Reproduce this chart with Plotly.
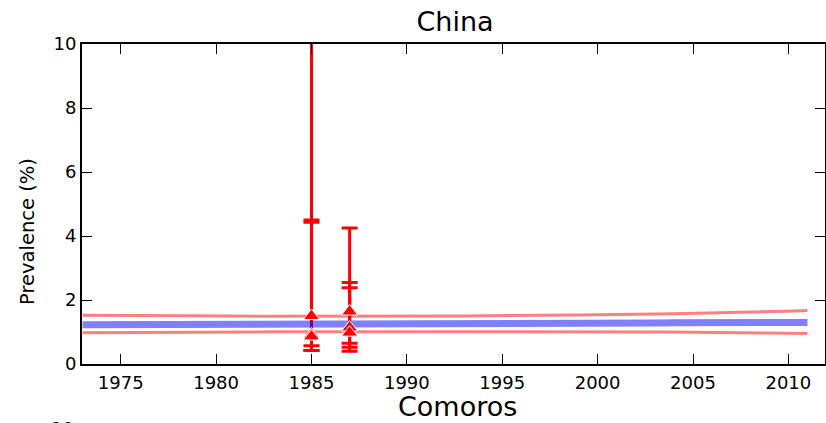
import plotly.graph_objects as go

# ---- data ----
years = list(range(1973, 2012))
upper = [1.52, 1.52, 1.51, 1.51, 1.51, 1.50, 1.50, 1.50, 1.50, 1.49, 1.49, 1.49, 1.48,
         1.48, 1.48, 1.48, 1.49, 1.49, 1.49, 1.50, 1.50, 1.51, 1.51, 1.51, 1.52, 1.52,
         1.53, 1.54, 1.54, 1.55, 1.56, 1.57, 1.58, 1.59, 1.60, 1.62, 1.63, 1.65, 1.67]
central = [1.23, 1.23, 1.23, 1.23, 1.24, 1.24, 1.24, 1.24, 1.24, 1.24, 1.25, 1.25, 1.25,
           1.25, 1.25, 1.25, 1.26, 1.26, 1.26, 1.26, 1.26, 1.27, 1.27, 1.27, 1.27, 1.27,
           1.28, 1.28, 1.28, 1.28, 1.28, 1.29, 1.29, 1.29, 1.29, 1.29, 1.30, 1.30, 1.30]
lower = [0.98, 0.98, 0.99, 0.99, 0.99, 1.00, 1.00, 1.00, 1.00, 1.00, 1.01, 1.01, 1.01,
         1.01, 1.01, 1.02, 1.02, 1.02, 1.02, 1.02, 1.02, 1.02, 1.02, 1.02, 1.02, 1.01,
         1.01, 1.01, 1.01, 1.00, 1.00, 1.00, 0.99, 0.99, 0.98, 0.98, 0.97, 0.96, 0.95]

obs_years = [1985, 1985, 1985, 1987, 1987, 1987]
obs_vals = [1.50, 0.92, 0.86, 1.64, 1.14, 0.98]
obs_low = [0.57, 0.42, 0.42, 0.65, 0.52, 0.40]
obs_high = [12.0, 4.50, 4.43, 4.25, 2.55, 2.38]

x_ticks = [1975, 1980, 1985, 1990, 1995, 2000, 2005, 2010]
y_ticks = [0, 2, 4, 6, 8, 10]

err_plus = [h - v for h, v in zip(obs_high, obs_vals)]
err_minus = [v - l for v, l in zip(obs_vals, obs_low)]

fig = go.Figure()

# error bars (under the band)
fig.add_trace(go.Scatter(
    x=obs_years, y=obs_vals, mode="markers",
    marker=dict(size=1, color="rgba(255,0,0,0)"),
    error_y=dict(type="data", symmetric=False, array=err_plus, arrayminus=err_minus,
                 color="red", thickness=3, width=8),
    showlegend=False, hoverinfo="skip"))

fig.add_trace(go.Scatter(x=years, y=upper, mode="lines",
                         line=dict(color="rgba(255,0,0,0.5)", width=3), showlegend=False))
fig.add_trace(go.Scatter(x=years, y=lower, mode="lines",
                         line=dict(color="rgba(255,0,0,0.5)", width=3), showlegend=False))
fig.add_trace(go.Scatter(x=years, y=central, mode="lines",
                         line=dict(color="rgba(0,0,255,0.5)", width=7), showlegend=False))

# markers on top
fig.add_trace(go.Scatter(
    x=obs_years, y=obs_vals, mode="markers",
    marker=dict(symbol="triangle-up", size=14, color="red",
                line=dict(color="white", width=1)),
    showlegend=False))

font = "DejaVu Sans, sans-serif"

fig.update_layout(
    width=826, height=423,
    margin=dict(l=82, r=1, t=44, b=59, autoexpand=False),
    paper_bgcolor="white", plot_bgcolor="white",
    font=dict(family=font, color="black"),
    title=dict(text="China", x=(455 / 826), xanchor="center",
               y=1 - 22 / 423, yanchor="middle", font=dict(size=27, family=font)),
    annotations=[
        dict(text="Comoros", xref="paper", yref="paper", x=(457 - 82) / 743,
             y=(364 - 406) / 320,
             xanchor="center", yanchor="middle", showarrow=False,
             font=dict(size=27, family=font)),
        dict(text="Prevalence (%)", xref="paper", yref="paper",
             x=(27 - 82) / 743, y=(364 - 231) / 320, textangle=-90,
             xanchor="center", yanchor="middle", showarrow=False,
             font=dict(size=19.5, family=font)),
        dict(text="10", xref="paper", yref="paper", x=(76 - 82) / 743,
             y=(364 - 416) / 320, xanchor="right", yanchor="top", showarrow=False,
             font=dict(size=18, family=font)),
    ],
)

fig.update_xaxes(range=[1972.97, 2011.92], tickvals=x_ticks,
                 ticktext=[str(t) for t in x_ticks], automargin=False,
                 ticks="inside", ticklen=10, tickwidth=1, tickcolor="black",
                 ticklabelstandoff=1,
                 showline=True, linecolor="black", linewidth=2, mirror="allticks",
                 showgrid=False, zeroline=False, tickfont=dict(size=18, family=font))
fig.update_yaxes(range=[0, 10], tickvals=y_ticks,
                 ticktext=[str(t) for t in y_ticks], automargin=False,
                 ticks="inside", ticklen=10, tickwidth=1, tickcolor="black",
                 showline=True, linecolor="black", linewidth=2, mirror="allticks",
                 showgrid=False, zeroline=False, tickfont=dict(size=18, family=font))

fig.write_html("out.html", config={"displayModeBar": False},
               post_script="document.body.style.margin='0';document.body.style.overflow='hidden';")
